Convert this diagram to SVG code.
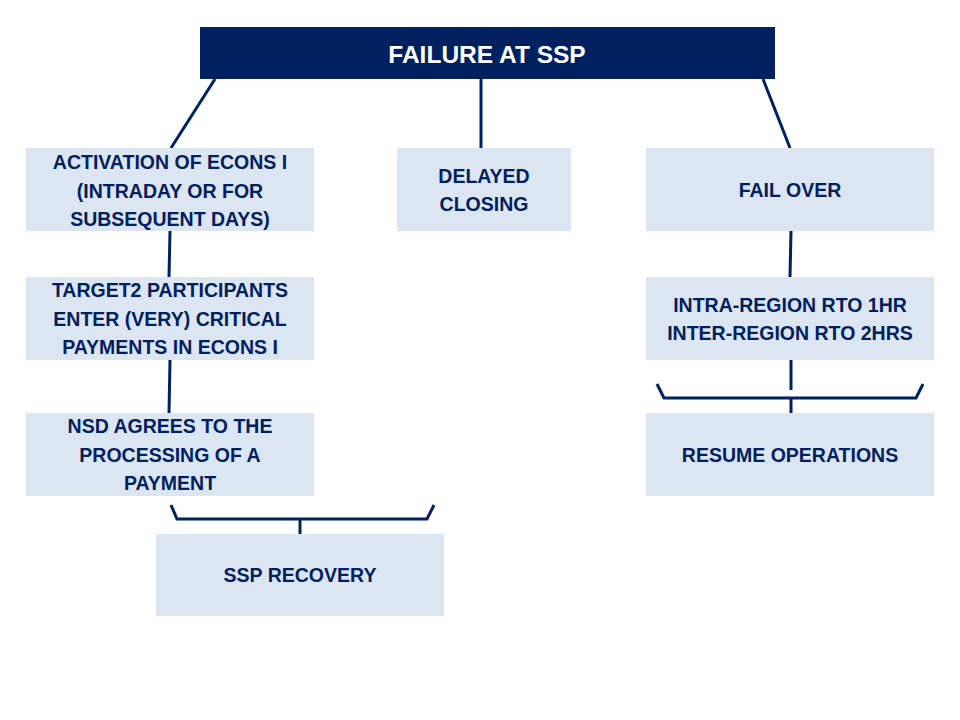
<svg xmlns="http://www.w3.org/2000/svg" width="960" height="720" viewBox="0 0 960 720">
<style>
.box{fill:#DCE6F2}
.t{font-family:"Liberation Sans",Arial,sans-serif;font-weight:bold;font-size:19.5px;fill:#002060;text-anchor:middle}
.h{font-family:"Liberation Sans",Arial,sans-serif;font-weight:bold;font-size:24.5px;fill:#FFFFFF;text-anchor:middle}
.c{stroke:#002060;stroke-width:3;fill:none}
</style>
<rect width="960" height="720" fill="#FFFFFF"/>
<g id="connectors">
<line class="c" x1="215" y1="79" x2="171" y2="148"/>
<line class="c" x1="481" y1="79" x2="481" y2="148"/>
<line class="c" x1="763" y1="79" x2="790" y2="148"/>
<line class="c" x1="170" y1="231" x2="169" y2="277"/>
<line class="c" x1="170" y1="360" x2="169" y2="413"/>
<line class="c" x1="791" y1="231" x2="790" y2="277"/>
<line class="c" x1="791" y1="360" x2="791" y2="390"/>
<polyline class="c" points="657,384 664,398 916,398 923,384"/>
<line class="c" x1="791" y1="398" x2="791" y2="413"/>
<polyline class="c" points="171,505 177,519 427,519 434,505"/>
<line class="c" x1="300" y1="519" x2="300" y2="534"/>
</g>
<g id="failure"><rect x="200" y="27" width="575" height="52" fill="#002060"/><text class="h" x="487" y="63">FAILURE AT SSP</text></g>
<g id="econs"><rect class="box" x="26" y="148" width="288" height="83"/><text class="t" x="170" y="169">ACTIVATION OF ECONS I</text><text class="t" x="170" y="197.5">(INTRADAY OR FOR</text><text class="t" x="170" y="226">SUBSEQUENT DAYS)</text></g>
<g id="delayed"><rect class="box" x="397" y="148" width="174" height="83"/><text class="t" x="484" y="183">DELAYED</text><text class="t" x="484" y="211">CLOSING</text></g>
<g id="failover"><rect class="box" x="646" y="148" width="288" height="83"/><text class="t" x="790" y="197">FAIL OVER</text></g>
<g id="target2"><rect class="box" x="26" y="277" width="288" height="83"/><text class="t" x="170" y="297">TARGET2 PARTICIPANTS</text><text class="t" x="170" y="325.5">ENTER (VERY) CRITICAL</text><text class="t" x="170" y="354">PAYMENTS IN ECONS I</text></g>
<g id="rto"><rect class="box" x="646" y="277" width="288" height="83"/><text class="t" x="790" y="312">INTRA-REGION RTO 1HR</text><text class="t" x="790" y="340">INTER-REGION RTO 2HRS</text></g>
<g id="nsd"><rect class="box" x="26" y="413" width="288" height="83"/><text class="t" x="170" y="433">NSD AGREES TO THE</text><text class="t" x="170" y="461.5">PROCESSING OF A</text><text class="t" x="170" y="490">PAYMENT</text></g>
<g id="resume"><rect class="box" x="646" y="413" width="288" height="83"/><text class="t" x="790" y="461.5">RESUME OPERATIONS</text></g>
<g id="recovery"><rect class="box" x="156" y="534" width="288" height="82"/><text class="t" x="300" y="582">SSP RECOVERY</text></g>
</svg>
